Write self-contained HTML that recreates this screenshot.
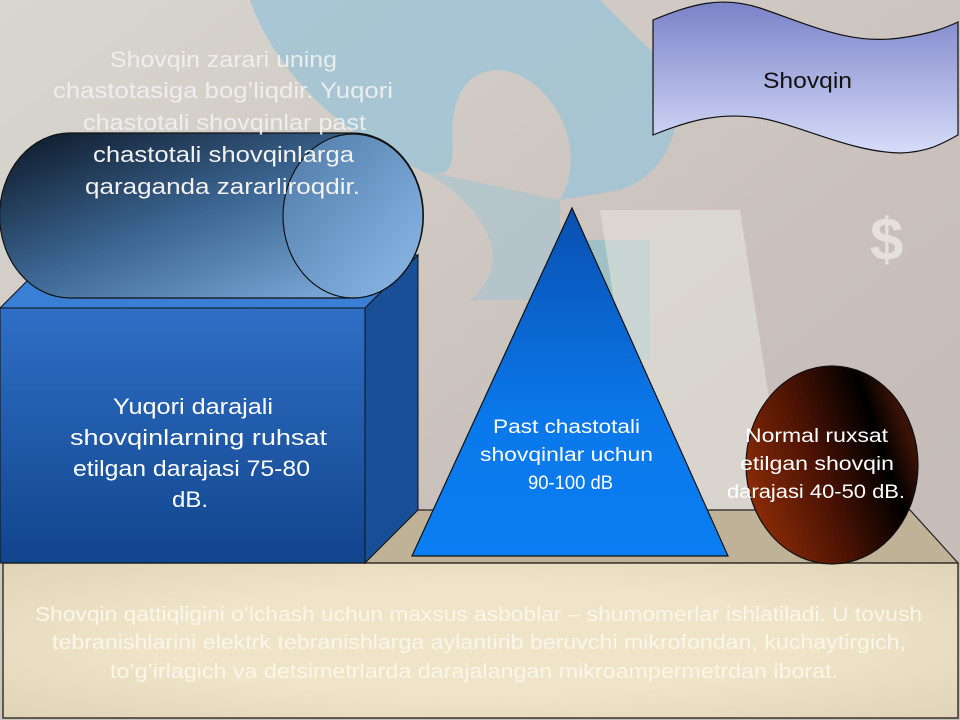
<!DOCTYPE html>
<html><head><meta charset="utf-8"><style>
html,body{margin:0;padding:0;width:960px;height:720px;overflow:hidden;background:#cdc6bf}
svg{display:block}
text{font-family:"Liberation Sans",sans-serif}
</style></head><body>
<svg width="960" height="720" viewBox="0 0 960 720" xmlns="http://www.w3.org/2000/svg">
<defs>
<linearGradient id="bg" x1="0" y1="0" x2="1" y2="1"><stop offset="0" stop-color="#d9d6d0"/><stop offset="0.6" stop-color="#c9c0bb"/><stop offset="1" stop-color="#c4bbb6"/></linearGradient>
<linearGradient id="cyl" x1="0" y1="0" x2="1" y2="1"><stop offset="0" stop-color="#0b1624"/><stop offset="0.5" stop-color="#3f6a98"/><stop offset="1" stop-color="#8ab8e6"/></linearGradient>
<linearGradient id="cap" x1="0" y1="0" x2="1" y2="1"><stop offset="0" stop-color="#4f7aa8"/><stop offset="1" stop-color="#8cbae8"/></linearGradient>
<linearGradient id="box" x1="0" y1="0" x2="0" y2="1"><stop offset="0" stop-color="#2f6fc6"/><stop offset="1" stop-color="#11458c"/></linearGradient>
<linearGradient id="tri" x1="0" y1="0" x2="0" y2="1"><stop offset="0" stop-color="#0a4fb0"/><stop offset="0.6" stop-color="#0a78ea"/><stop offset="1" stop-color="#0a7ef2"/></linearGradient>
<linearGradient id="ball" x1="0" y1="0.9" x2="1" y2="0.5"><stop offset="0" stop-color="#9a3208"/><stop offset="0.5" stop-color="#4a1204"/><stop offset="0.85" stop-color="#000"/><stop offset="1" stop-color="#3a1206"/></linearGradient>
<linearGradient id="flag" x1="0" y1="0" x2="0" y2="1"><stop offset="0" stop-color="#7b82c8"/><stop offset="1" stop-color="#d6dcf8"/></linearGradient>
<radialGradient id="base" cx="0.5" cy="0.5" r="0.7"><stop offset="0.5" stop-color="#f0e4c8"/><stop offset="1" stop-color="#e0d4b8"/></radialGradient>
</defs>
<rect width="960" height="720" fill="url(#bg)"/>
<path d="M250 0 C270 60 330 130 420 170 C480 190 430 120 470 80 C520 40 600 130 560 200 L620 190 C680 170 700 90 640 40 L600 0 Z" fill="#9cc3d4" opacity="0.8"/>
<path d="M420 170 C480 200 520 260 470 300 L560 300 L560 200 Z" fill="#9cc3d4" opacity="0.5"/>
<rect x="560" y="240" width="90" height="120" fill="#8cc0c8" opacity="0.7"/>
<path d="M600 210 L740 210 L800 600 L660 600 Z" fill="#e4e2dc" opacity="0.6"/>
<text x="870" y="260" font-size="60" fill="#ece9e4" opacity="0.8" font-weight="bold">$</text>
<path d="M653 20 C690 5 720 -5 760 8 C810 25 850 45 900 38 C930 34 945 28 958 22 L958 135 C945 142 930 152 900 153 C850 152 800 125 760 118 C720 112 690 120 653 135 Z" fill="url(#flag)" stroke="#111" stroke-width="1.2"/>
<text x="763" y="88" font-size="22" textLength="89" lengthAdjust="spacingAndGlyphs" fill="#111">Shovqin</text>
<polygon points="365,563 410,510 910,510 958,563" fill="#bfb297" stroke="#222" stroke-width="1.2"/>
<rect x="3" y="563" width="955" height="155" fill="url(#base)" stroke="#3a342a" stroke-width="1.5"/>
<polygon points="0,308 53,255 418,255 365,308" fill="#3a7fd6" stroke="#111"/>
<polygon points="365,308 418,255 418,510 365,563" fill="#184f96" stroke="#111"/>
<rect x="0" y="308" width="365" height="255" fill="url(#box)" stroke="#111"/>
<path d="M70 133 L353 133 A70 82 0 0 1 353 298 L70 298 A70 82 0 0 1 70 133 Z" fill="url(#cyl)" stroke="#111" stroke-width="1.2"/>
<ellipse cx="353" cy="216" rx="70" ry="82" fill="url(#cap)" stroke="#111" stroke-width="1.2"/>
<g font-size="22" fill="#f2f2f2">
<text x="110" y="67" textLength="227" lengthAdjust="spacingAndGlyphs" opacity="0.9">Shovqin zarari uning</text>
<text x="53" y="98" textLength="340" lengthAdjust="spacingAndGlyphs" opacity="0.9">chastotasiga bog’liqdir. Yuqori</text>
<text x="83" y="130" textLength="283" lengthAdjust="spacingAndGlyphs" opacity="0.9">chastotali shovqinlar past</text>
<text x="93" y="162" textLength="261" lengthAdjust="spacingAndGlyphs">chastotali shovqinlarga</text>
<text x="85" y="194" textLength="275" lengthAdjust="spacingAndGlyphs">qaraganda  zararliroqdir.</text>
</g>
<g font-size="22" fill="#fff">
<text x="113" y="414" textLength="160" lengthAdjust="spacingAndGlyphs">Yuqori darajali</text>
<text x="70" y="445" textLength="257" lengthAdjust="spacingAndGlyphs">shovqinlarning ruhsat</text>
<text x="73" y="476" textLength="237" lengthAdjust="spacingAndGlyphs">etilgan darajasi 75-80</text>
<text x="172" y="507" textLength="36" lengthAdjust="spacingAndGlyphs">dB.</text>
</g>
<polygon points="572,208 412,556 728,556" fill="url(#tri)" stroke="#111" stroke-width="1.2"/>
<g font-size="19" fill="#fff">
<text x="493" y="433" textLength="147" lengthAdjust="spacingAndGlyphs">Past chastotali</text>
<text x="480" y="461" textLength="173" lengthAdjust="spacingAndGlyphs">shovqinlar uchun</text>
<text x="528" y="489" textLength="85" lengthAdjust="spacingAndGlyphs">90-100 dB</text>
</g>
<ellipse cx="832" cy="465" rx="86" ry="99" fill="url(#ball)" stroke="#111" stroke-width="1.2"/>
<g font-size="19" fill="#fff">
<text x="745" y="442" textLength="143" lengthAdjust="spacingAndGlyphs">Normal ruxsat</text>
<text x="740" y="470" textLength="154" lengthAdjust="spacingAndGlyphs">etilgan shovqin</text>
<text x="727" y="498" textLength="178" lengthAdjust="spacingAndGlyphs">darajasi 40-50 dB.</text>
</g>
<g font-size="20" fill="#fbf6ea">
<text x="35" y="621" textLength="887" lengthAdjust="spacingAndGlyphs">Shovqin qattiqligini o’lchash uchun maxsus asboblar – shumomerlar ishlatiladi. U tovush</text>
<text x="52" y="649" textLength="854" lengthAdjust="spacingAndGlyphs">tebranishlarini elektrk tebranishlarga aylantirib beruvchi mikrofondan, kuchaytirgich,</text>
<text x="110" y="678" textLength="728" lengthAdjust="spacingAndGlyphs">to’g’irlagich va detsimetrlarda darajalangan mikroampermetrdan iborat.</text>
</g>
</svg>
</body></html>
